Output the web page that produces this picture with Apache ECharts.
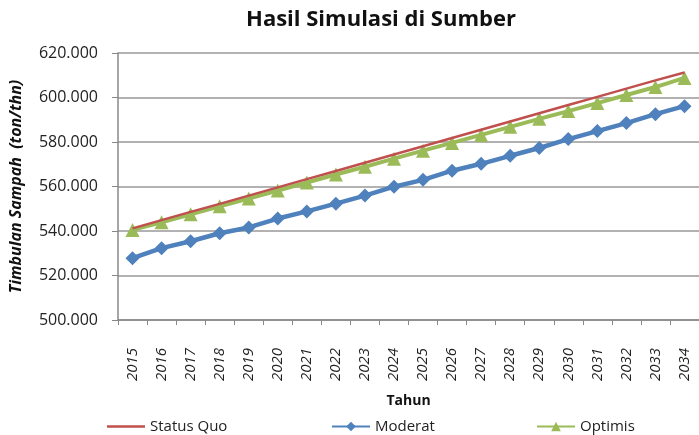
<!DOCTYPE html>
<html>
<head>
<meta charset="utf-8">
<script src="https://cdn.jsdelivr.net/npm/echarts@6/dist/echarts.min.js"></script>
<style>
	html, body { margin: 0; padding: 0; background: #fff; }
	#chart { width: 699px; height: 435px; }
</style>
</head>
<body>
<div id="chart"></div>
<script>
// tahun dan hasil simulasi (ton/thn)
let years = ['2015', '2016', '2017', '2018', '2019', '2020', '2021', '2022', '2023', '2024',
	'2025', '2026', '2027', '2028', '2029', '2030', '2031', '2032', '2033', '2034'];
let statusQuo = [541200, 544900, 548600, 552200, 555900, 559600, 563300, 567000, 570700, 574400,
	578100, 581800, 585500, 589200, 592900, 596600, 600300, 604000, 607700, 611200];
let moderat = [527800, 532300, 535400, 539000, 541600, 545600, 548800, 552300, 555900, 559900,
	563000, 567100, 570200, 573800, 577300, 581300, 584900, 588500, 592500, 596100];
let optimis = [540500, 543900, 547500, 551100, 554600, 558200, 561800, 565400, 568900, 572500,
	576100, 579600, 583200, 586800, 590400, 593900, 597500, 601100, 604700, 608800];
let yTicks = { min: 500000, max: 620000, step: 20000 };

let font = 'Open Sans';
let chart = echarts.init(document.getElementById('chart'));

function legendAt(item, left, width) {
	return {
		data: [item],
		left: left,
		top: 414,
		itemWidth: width,
		itemHeight: 12,
		itemGap: 2,
		textStyle: { fontFamily: font, fontSize: 15, color: '#222' }
	};
}

let option = {
	animation: false,
	title: {
		text: 'Hasil Simulasi di Sumber',
		left: 376,
		textAlign: 'center',
		top: 4,
		textStyle: { fontFamily: font, fontSize: 22, fontWeight: 'bold', color: '#111' }
	},
	legend: [
		legendAt({ name: 'Status Quo', icon: 'path://M0,0H40V2.5H0Z' }, 102, 38),
		legendAt('Moderat', 326, 38),
		legendAt('Optimis', 531, 38)
	],
	grid: {
		left: 116,
		top: 53,
		width: 592,
		height: 267
	},
	xAxis: {
		type: 'category',
		data: years,
		boundaryGap: true,
		name: 'Tahun',
		nameLocation: 'middle',
		nameGap: 74,
		nameTextStyle: { fontFamily: font, fontSize: 14, fontWeight: 'bold', color: '#111' },
		axisLine: { lineStyle: { color: '#888', width: 1.5 } },
		axisTick: { show: true, interval: 0, length: 5, lineStyle: { color: '#888' } },
		axisLabel: {
			interval: 0,
			rotate: 90,
			margin: 28,
			fontFamily: font,
			fontSize: 15,
			fontStyle: 'italic',
			color: '#222'
		}
	},
	yAxis: {
		type: 'value',
		min: yTicks.min,
		max: yTicks.max,
		interval: yTicks.step,
		name: 'Timbulan Sampah  (ton/thn)',
		nameLocation: 'middle',
		nameGap: 94,
		nameTextStyle: { fontFamily: font, fontSize: 16, fontWeight: 'bold', fontStyle: 'italic', color: '#111' },
		axisLine: { show: true, lineStyle: { color: '#888', width: 1.5 } },
		axisTick: { show: true, length: 6, lineStyle: { color: '#888' } },
		splitLine: { lineStyle: { color: '#999', width: 1.5 } },
		axisLabel: {
			margin: 20,
			fontFamily: font,
			fontSize: 16,
			color: '#222',
			formatter: function(v) {
				return (v / 1000).toFixed(3);
			}
		}
	},
	series: [{
			name: 'Status Quo',
			type: 'line',
			data: statusQuo,
			symbol: 'none',
			lineStyle: { color: '#C0504D', width: 2.5 },
			itemStyle: { color: '#C0504D' },
			z: 3
		},
		{
			name: 'Moderat',
			type: 'line',
			data: moderat,
			symbol: 'diamond',
			symbolSize: 14,
			lineStyle: { color: '#4F81BD', width: 4.5 },
			itemStyle: { color: '#4F81BD' },
			z: 2
		},
		{
			name: 'Optimis',
			type: 'line',
			data: optimis,
			symbol: 'triangle',
			symbolSize: 14,
			lineStyle: { color: '#9BBB59', width: 4 },
			itemStyle: { color: '#9BBB59' },
			z: 2
		}
	]
};
chart.setOption(option);
</script>
</body>
</html>
